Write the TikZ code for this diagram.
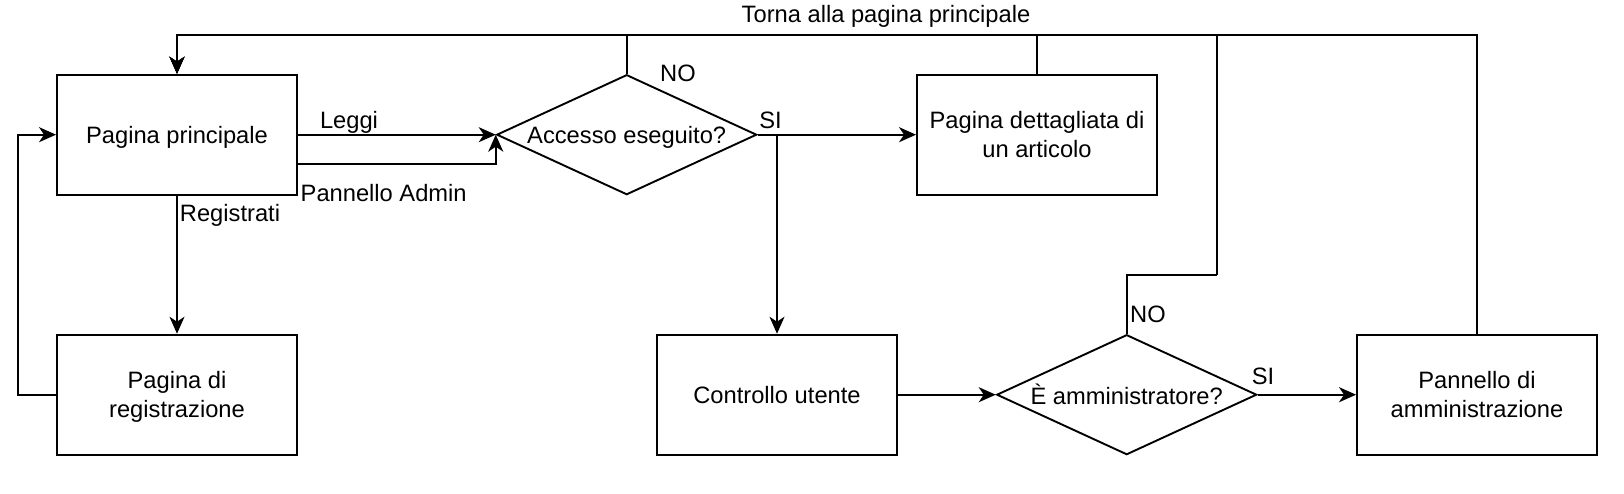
\documentclass[tikz,border=0pt]{standalone}
\usepackage{fontspec}
\setmainfont{Liberation Sans}
\usetikzlibrary{shapes.geometric,arrows.meta}
\begin{document}
\begin{tikzpicture}[x=1pt,y=-1pt,
  every node/.style={font=\fontsize{23.7}{28.8}\selectfont},
  box/.style={draw,line width=1.9pt,rectangle,minimum width=240pt,minimum height=120pt,inner sep=0pt,align=center,text depth=0pt},
  decision/.style={draw,line width=1.9pt,diamond,shape aspect=2.1667,minimum width=260pt,minimum height=120pt,inner sep=0pt,align=center,text depth=0pt},
  conn/.style={line width=1.8pt},
  arr/.style={conn,-{Stealth[length=17pt,width=15pt,inset=5pt]}},
  lbl/.style={inner sep=0pt,anchor=base}]
\useasboundingbox (0,0) rectangle (1624,494);
% nodes
\node[box] (pp) at (177,134.7) {Pagina principale};
\node[box] (reg) at (177,394.7) {Pagina di\\registrazione};
\node[decision] (acc) at (626.7,134.7) {Accesso eseguito?};
\node[box] (det) at (1037,134.7) {Pagina dettagliata di\\un articolo};
\node[box] (cu) at (777,394.7) {Controllo utente};
\node[decision] (isa) at (1126.7,394.7) {È amministratore?};
\node[box] (adm) at (1477,394.7) {Pannello di\\amministrazione};
% helper coordinates
\coordinate (topL) at (177,34.7);
\coordinate (loopL) at (18.3,394.7);
\coordinate (noK) at (1216.7,274.7);
% return lines to main page
\draw[arr] (adm.north) |- (topL) -- (pp.north);
\draw[arr] (noK) |- (topL) -- (pp.north);
\draw[conn] (isa.north) |- (noK);
\draw[arr] (det.north) |- (topL) -- (pp.north);
\draw[arr] (acc.north) |- (topL) -- (pp.north);
% main page links
\draw[arr] (pp.east) -- (acc.west);
\draw[arr] ([yshift=-29.3pt]pp.east) -| (acc.west);
\draw[arr] (pp.south) -- (reg.north);
\draw[arr] (reg.west) -- (loopL) |- (pp.west);
% access decision
\draw[arr] (acc.east) -- (det.west);
\draw[arr] (acc.east) -| (cu.north);
\draw[arr] (cu.east) -- (isa.west);
\draw[arr] (isa.east) -- (adm.west);
% labels
\node[lbl] (tTorna) at (886,23) {Torna alla pagina principale};
\node[lbl] (tNO1) at (678,82) {NO};
\node[lbl] (tSI1) at (770.5,128.5) {SI};
\node[lbl] (tLeggi) at (349,128.5) {Leggi};
\node[lbl] (tAdmin) at (383.7,202) {Pannello Admin};
\node[lbl] (tReg) at (230,222) {Registrati};
\node[lbl] (tNO2) at (1148,322) {NO};
\node[lbl] (tSI2) at (1263,384) {SI};
\end{tikzpicture}
\end{document}
